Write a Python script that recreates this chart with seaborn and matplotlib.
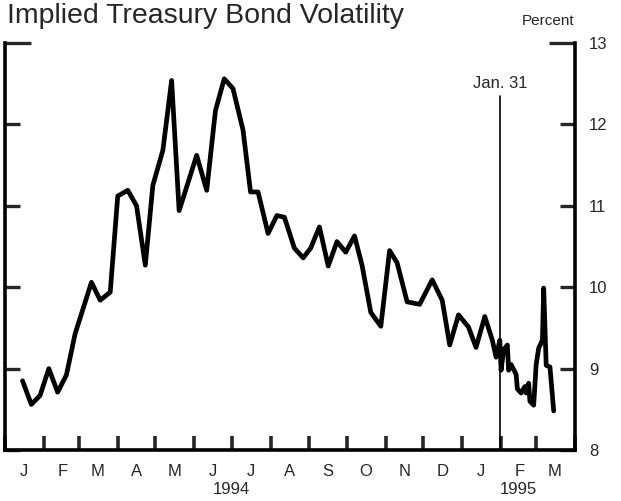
import matplotlib
matplotlib.use("Agg")
import matplotlib.pyplot as plt
import matplotlib.dates as mdates
import seaborn as sns
import pandas as pd

# ---- data ----
dates = [
    "1994-01-15", "1994-01-22", "1994-01-29", "1994-02-05", "1994-02-12", "1994-02-19",
    "1994-02-26", "1994-03-04", "1994-03-11", "1994-03-18", "1994-03-26", "1994-04-01",
    "1994-04-09", "1994-04-16", "1994-04-23", "1994-04-29", "1994-05-07", "1994-05-14",
    "1994-05-20", "1994-06-03", "1994-06-11", "1994-06-18", "1994-06-25", "1994-07-02",
    "1994-07-10", "1994-07-16", "1994-07-22", "1994-07-30", "1994-08-06", "1994-08-12",
    "1994-08-20", "1994-08-27", "1994-09-02", "1994-09-09", "1994-09-16", "1994-09-23",
    "1994-09-30", "1994-10-07", "1994-10-13", "1994-10-20", "1994-10-28", "1994-11-04",
    "1994-11-10", "1994-11-18", "1994-11-28", "1994-12-08", "1994-12-16", "1994-12-22",
    "1994-12-29", "1995-01-06", "1995-01-12", "1995-01-19", "1995-01-25", "1995-01-28",
    "1995-01-31", "1995-02-01", "1995-02-03", "1995-02-06", "1995-02-07", "1995-02-09",
    "1995-02-13", "1995-02-14", "1995-02-17", "1995-02-20", "1995-02-21", "1995-02-23",
    "1995-02-24", "1995-02-27", "1995-03-01", "1995-03-03", "1995-03-06", "1995-03-07",
    "1995-03-09", "1995-03-12", "1995-03-15",
]
volatility = [
    8.85, 8.56, 8.67, 9.00, 8.71, 8.92,
    9.43, 9.72, 10.06, 9.84, 9.94, 11.12,
    11.19, 11.00, 10.27, 11.25, 11.68, 12.54,
    10.94, 11.62, 11.19, 12.17, 12.56, 12.44,
    11.93, 11.17, 11.17, 10.66, 10.88, 10.86,
    10.48, 10.36, 10.48, 10.74, 10.26, 10.56,
    10.43, 10.63, 10.27, 9.69, 9.52, 10.45,
    10.30, 9.82, 9.79, 10.09, 9.84, 9.29,
    9.66, 9.51, 9.26, 9.64, 9.35, 9.14,
    9.35, 8.98, 9.23, 9.29, 8.98, 9.05,
    8.93, 8.75, 8.70, 8.78, 8.70, 8.82,
    8.60, 8.55, 9.05, 9.25, 9.35, 9.99,
    9.04, 9.02, 8.48,
]
month_labels = ["J", "F", "M", "A", "M", "J", "J", "A", "S", "O", "N", "D", "J", "F", "M"]
year_labels = ["1994", "1995"]
y_ticks = [8, 9, 10, 11, 12]
y_top_tick = [13]
event_date = "1995-01-31"
event_label = "Jan. 31"

# ---- style ----
sns.set_style("white")
plt.rcParams['font.family'] = ['Liberation Sans', 'DejaVu Sans']

df = pd.DataFrame({"date": pd.to_datetime(dates), "vol": volatility})

fig = plt.figure(figsize=(6.21, 5.01), dpi=100)
ax = fig.add_axes([5 / 621, 51 / 501, 570 / 621, 407 / 501])

sns.lineplot(data=df, x="date", y="vol", ax=ax, color="black", linewidth=3.4)

ax.set_xlim(pd.Timestamp("1994-01-01"), pd.Timestamp("1995-04-01"))
ax.set_ylim(8, 13)
ax.set_xlabel("")
ax.set_ylabel("")

# spines
ax.spines["top"].set_visible(False)
for s in ["left", "right", "bottom"]:
    ax.spines[s].set_visible(True)
    ax.spines[s].set_linewidth(2.6)
    ax.spines[s].set_color("black")

# y ticks: both sides, inward, labels on right
ax.yaxis.set_ticks_position("both")
ax.set_yticks(y_ticks)
ax.set_yticklabels([str(v) for v in y_ticks])
ax.set_yticks(y_top_tick, minor=True)
ax.set_yticklabels([str(v) for v in y_top_tick], minor=True)
ax.tick_params(axis="y", which="major", direction="in", length=11, width=2.4,
               labelleft=False, labelright=True, labelsize=12, pad=10)
ax.tick_params(axis="y", which="minor", direction="in", length=19, width=2.4,
               labelleft=False, labelright=True, labelsize=12, pad=10)

# x ticks: month boundaries (inward), month letters centred mid-month
ax.xaxis.set_major_locator(mdates.MonthLocator())
ax.xaxis.set_major_formatter(plt.NullFormatter())
ax.xaxis.set_minor_locator(mdates.MonthLocator(bymonthday=16))
ax.xaxis.set_minor_formatter(plt.FixedFormatter(month_labels))
ax.tick_params(axis="x", which="major", direction="in", length=10, width=2.6, bottom=True, top=False)
ax.tick_params(axis="x", which="minor", length=0, labelsize=12, pad=10)

# year labels
xt = ax.get_xaxis_transform()
ax.text(pd.Timestamp("1994-07-01"), -0.098, year_labels[0], transform=xt,
        ha="center", va="center", fontsize=12)
ax.text(pd.Timestamp("1995-02-15"), -0.098, year_labels[1], transform=xt,
        ha="center", va="center", fontsize=12)

# event line
ev = pd.Timestamp(event_date)
ax.axvline(ev, ymin=0, ymax=(12.35 - 8) / 5, color="black", linewidth=1.2)
ax.text(ev, 12.5, event_label, ha="center", va="center", fontsize=12)

# title and unit
fig.text(7 / 621, 1 - 16 / 501, "Implied Treasury Bond Volatility",
         ha="left", va="center", fontsize=20.5)
fig.text(574 / 621, 1 - 21 / 501, "Percent", ha="right", va="center", fontsize=11)

fig.savefig("out.png", dpi=100)
